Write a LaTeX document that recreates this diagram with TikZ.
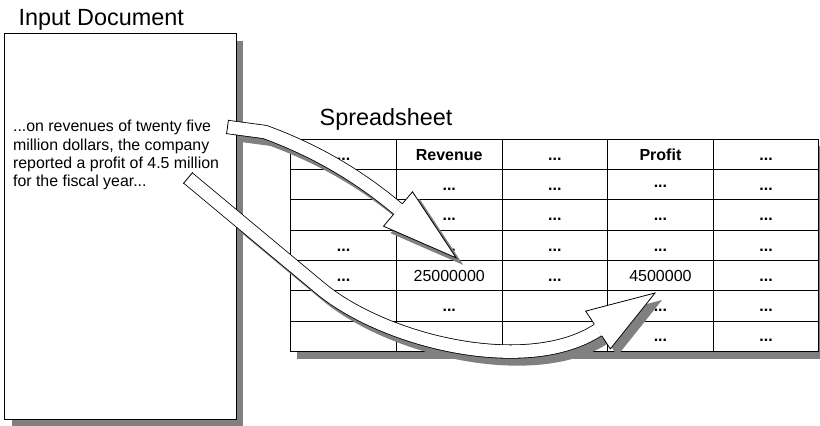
\documentclass[tikz,border=0pt]{standalone}
\usepackage{fontspec}
\setmainfont{Liberation Sans}
\usetikzlibrary{matrix,shadows}

\newcommand{\titlefont}{\fontsize{23.4}{28}\selectfont}
\newcommand{\bodyfont}{\fontsize{15.9}{18.3}\selectfont}
\newcommand{\cellfont}{\fontsize{16}{19}\selectfont}

% outlines of the two block arrows
\newcommand{\revshaft}{(227.5,127) -- (265,132) .. controls (325,154) and (367,183) .. (398,209)}
\newcommand{\revhead}{(402.4,203.7) -- (412.5,191.8) -- (456.2,257.9) -- (383.5,226.2) -- (393.6,214.3)}
\newcommand{\revtail}{(228.5,119.8) -- (226.5,134.2)}
\newcommand{\profshaft}{(188,178) -- (320,288) .. controls (385,342) and (527,376) .. (598,330)}
\newcommand{\profhead}{(594.2,324.1) -- (585.7,311.1) -- (655,293) -- (610.3,348.9) -- (601.8,335.9)}
\newcommand{\proftail}{(192.7,172.4) -- (183.3,183.6)}

\begin{document}
\begin{tikzpicture}[%
    x=1pt, y=-1pt,
    line width=0.8pt,
    boxshadow/.style={drop shadow={shadow xshift=7pt, shadow yshift=-7pt, fill=black!50, opacity=1}},
    cell/.style={draw, line width=0.9pt, minimum width=105.6pt, minimum height=30.3pt,
      inner sep=0pt, text height=11.6pt, text depth=0pt, font=\cellfont\bfseries},
    numcell/.style={font=\cellfont},
    shaft/.style={double=white, double distance=12.6pt, line width=0.8pt},
    shaftshadow/.style={draw=black!50, line width=14.2pt},
    title/.style={anchor=base west, font=\titlefont, inner sep=0pt}
    ]
    \useasboundingbox (0,0) rectangle (820,426);

    % Spreadsheet
    \matrix (sheet) [matrix of nodes, nodes in empty cells, nodes={cell},
      column sep=-0.9pt, row sep=-0.9pt, inner sep=0pt, fill=white, boxshadow,
      anchor=north west] at (290,138.3) {
      ... & Revenue & ... & Profit & ... \\
          & ... & ... & \raisebox{3pt}{...} & ... \\
          & ... & ... & ... & ... \\
      ... & ... & ... & ... & ... \\
      ... & |[numcell]| 25000000 & ... & |[numcell]| 4500000 & ... \\
          & ... &     & ... & ... \\
          &     &     & ... & ... \\
    };
    \node[title] (sheettitle) at (319.3,125) {Spreadsheet};

    % Arrow shadows
    \begin{scope}[shift={(7,7)}]
      \draw[shaftshadow] \revshaft;
      \fill[black!50] \revhead -- cycle;
      \draw[shaftshadow] \profshaft;
      \fill[black!50] \profhead -- cycle;
    \end{scope}

    % Input document
    \node[draw, fill=white, boxshadow, anchor=north west, inner sep=0pt,
      minimum width=231.4pt, minimum height=385.7pt] (doc) at (4.3,33.3) {};
    \node[title] (doctitle) at (18.3,25) {Input Document};
    \node[anchor=north west, align=left, font=\bodyfont, inner sep=0pt] (doctext) at (12.7,120)
      {...on revenues of twenty five\\million dollars, the company\\reported a profit of 4.5 million\\for the fiscal year...};

    % Revenue arrow
    \draw[shaft] \revshaft;
    \draw[fill=white] \revhead;
    \draw \revtail;

    % Profit arrow
    \draw[shaft] \profshaft;
    \draw[fill=white] \profhead;
    \draw \proftail;

  \end{tikzpicture}
\end{document}
